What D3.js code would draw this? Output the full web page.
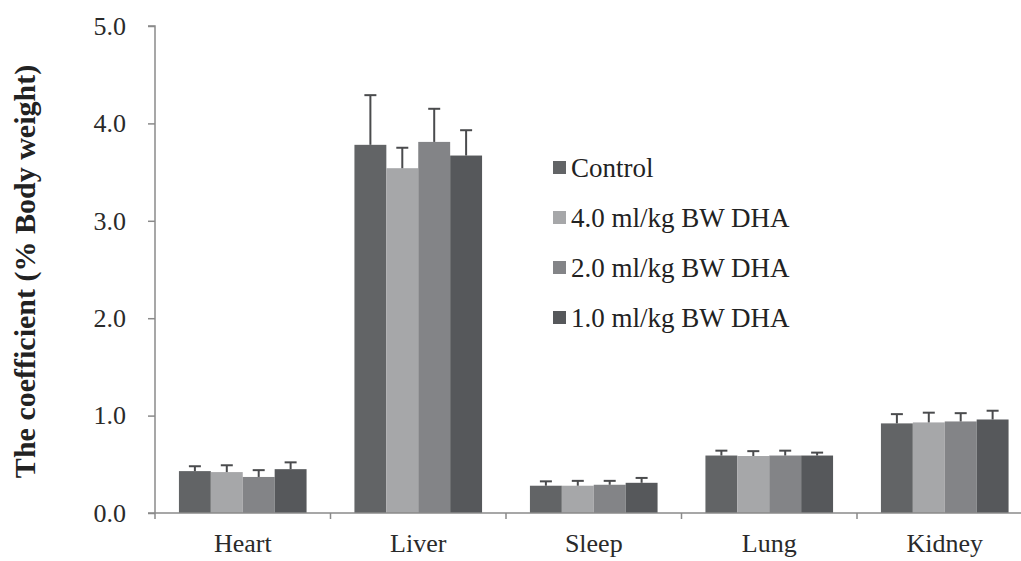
<!DOCTYPE html>
<html>
<head>
<meta charset="utf-8">
<script src="https://cdn.jsdelivr.net/npm/d3@7"></script>
<style>
  body { margin: 0; background: #fff; }
</style>
</head>
<body>
<div class="svgcontainer"></div>
<script>
const organs = ["Heart", "Liver", "Sleep", "Lung", "Kidney"]
const groups = ["Control", "4.0 ml/kg BW DHA", "2.0 ml/kg BW DHA", "1.0 ml/kg BW DHA"]
const colors = ["#626466", "#a6a7a9", "#838487", "#56585b"]

// mean values, one array per group (same order as organs)
const controlVals = [0.43, 3.78, 0.28, 0.59, 0.92]
const dha40Vals = [0.42, 3.54, 0.28, 0.585, 0.93]
const dha20Vals = [0.37, 3.81, 0.29, 0.59, 0.94]
const dha10Vals = [0.45, 3.67, 0.31, 0.59, 0.96]

// error bar (upper) sizes
const controlErr = [0.05, 0.51, 0.045, 0.05, 0.095]
const dha40Err = [0.07, 0.21, 0.05, 0.05, 0.10]
const dha20Err = [0.07, 0.34, 0.04, 0.05, 0.085]
const dha10Err = [0.07, 0.26, 0.05, 0.03, 0.09]

const yTicks = [0, 1, 2, 3, 4, 5]

const width = 1021, height = 561
const font = "'Liberation Serif', 'Times New Roman', serif"
const values = [controlVals, dha40Vals, dha20Vals, dha10Vals]
const errors = [controlErr, dha40Err, dha20Err, dha10Err]

let rows = []
organs.forEach((o, i) => {
  groups.forEach((g, j) => {
    rows.push({organ: o, group: g, value: values[j][i], err: errors[j][i], color: colors[j]})
  })
})

const svg = d3.select(".svgcontainer")
  .append("svg")
  .attr("width", width)
  .attr("height", height)

let x = d3.scaleBand()
  .domain(organs)
  .range([155, 155 + 5 * 175.5])
  .padding(0)

let xInner = d3.scaleBand()
  .domain(groups)
  .range([0, x.bandwidth()])
  .paddingInner(0)
  .paddingOuter(0.75)

let y = d3.scaleLinear()
  .domain([0, 5])
  .range([513, 26])

// bars
svg.append("g")
  .selectAll("rect")
  .data(rows)
  .join("rect")
  .attr("x", d => x(d.organ) + xInner(d.group))
  .attr("y", d => y(d.value))
  .attr("width", xInner.bandwidth())
  .attr("height", d => y(0) - y(d.value))
  .attr("fill", d => d.color)

// error bars
let eb = svg.append("g")
  .attr("stroke", "#4a4b4d")
  .attr("stroke-width", 2)
  .selectAll("g")
  .data(rows)
  .join("g")
  .attr("transform", d => `translate(${x(d.organ) + xInner(d.group) + xInner.bandwidth() / 2},0)`)
eb.append("line")
  .attr("y1", d => y(d.value))
  .attr("y2", d => y(d.value + d.err))
eb.append("line")
  .attr("x1", -6).attr("x2", 6)
  .attr("y1", d => y(d.value + d.err))
  .attr("y2", d => y(d.value + d.err))

// y axis
let yAxis = svg.append("g")
  .attr("transform", "translate(155,0)")
  .call(d3.axisLeft(y).tickValues(yTicks).tickFormat(d3.format(".1f")).tickSize(7).tickPadding(22))
yAxis.attr("font-family", null)
yAxis.select(".domain").attr("stroke", "#8a8a8a").attr("stroke-width", 1.5).attr("d", `M-7,${y(5)}H0V${y(0)}`)
yAxis.selectAll(".tick line").attr("stroke", "#8a8a8a").attr("stroke-width", 1.5)
yAxis.selectAll(".tick text")
  .style("font-family", font)
  .style("font-size", "26px")
  .attr("fill", "#2a2a2a")

// x axis
let xAxis = svg.append("g")
  .attr("transform", `translate(0,${y(0)})`)
  .call(d3.axisBottom(x).tickSize(0).tickPadding(21))
xAxis.select(".domain").attr("stroke", "#8a8a8a").attr("stroke-width", 1.5).attr("d", `M148,0H${width}`)
xAxis.selectAll(".tick text")
  .style("font-family", font)
  .style("font-size", "26px")
  .attr("fill", "#2a2a2a")
xAxis.selectAll(".tick line").remove()
svg.append("g")
  .attr("stroke", "#8a8a8a")
  .attr("stroke-width", 1.5)
  .selectAll("line")
  .data(organs)
  .join("line")
  .attr("x1", d => x(d)).attr("x2", d => x(d))
  .attr("y1", y(0)).attr("y2", y(0) + 6)

// y title
svg.append("text")
  .attr("transform", `translate(35,${(y(0) + y(5)) / 2 + 2}) rotate(-90)`)
  .attr("text-anchor", "middle")
  .style("font-family", font)
  .style("font-size", "30px")
  .style("font-weight", "bold")
  .attr("fill", "#222")
  .text("The coefficient (% Body weight)")

// legend
let legend = svg.append("g")
  .selectAll("g")
  .data(groups)
  .join("g")
  .attr("transform", (d, i) => `translate(553,${168 + i * 50})`)
legend.append("rect")
  .attr("x", 0).attr("y", -7)
  .attr("width", 13).attr("height", 13)
  .attr("fill", (d, i) => colors[i])
legend.append("text")
  .attr("x", 18)
  .attr("dy", "0.35em")
  .style("font-family", font)
  .style("font-size", "27px")
  .attr("fill", "#222")
  .text(d => d)
</script>
</body>
</html>
